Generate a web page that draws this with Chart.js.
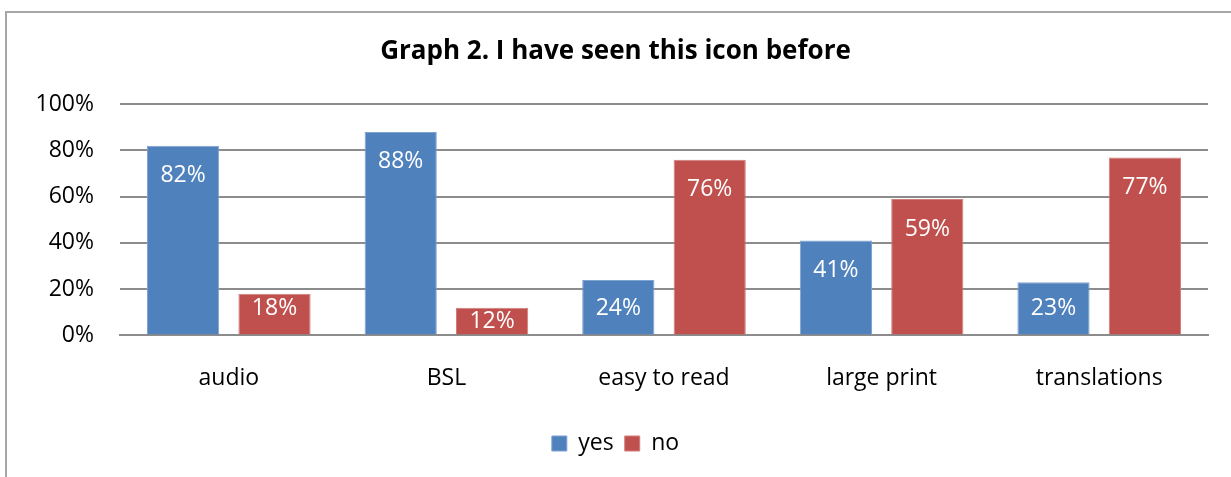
<!DOCTYPE html>
<html>
<head>
<meta charset="utf-8">
<script src="https://cdn.jsdelivr.net/npm/chart.js@4/dist/chart.umd.min.js"></script>
<style>
  html, body { margin: 0; padding: 0; background: #fff; }
  #wrap { position: relative; width: 1231px; height: 477px; overflow: hidden; }
  #frame { position: absolute; left: 5px; top: 11px; width: 1300px; height: 600px; border: 2px solid #a6a6a6; box-sizing: border-box; }
  #c { position: absolute; left: 0; top: 0; }
</style>
</head>
<body>
<div id="wrap">
  <div id="frame"></div>
  <canvas id="c" width="1231" height="477"></canvas>
</div>
<script>
const categories = ["audio", "BSL", "easy to read", "large print", "translations"];
const yesValues = [82, 88, 24, 41, 23];
const noValues = [18, 12, 76, 59, 77];
const yTicks = [0, 20, 40, 60, 80, 100];
const titleText = "Graph 2. I have seen this icon before";

const FONT = "'Open Sans', Lato, sans-serif";

const labelPlugin = {
  id: 'insideLabels',
  afterDatasetsDraw(chart) {
    const ctx = chart.ctx;
    ctx.save();
    ctx.fillStyle = '#ffffff';
    ctx.font = '23px ' + FONT;
    ctx.textAlign = 'center';
    ctx.textBaseline = 'middle';
    chart.data.datasets.forEach((ds, di) => {
      const meta = chart.getDatasetMeta(di);
      meta.data.forEach((bar, i) => {
        const top = bar.y, bottom = bar.base;
        let y = Math.min(top + 30, bottom - 26);
        if (y < top + 13) y = (top + bottom) / 2;
        ctx.fillText(ds.data[i] + '%', bar.x, y);
      });
    });
    ctx.restore();
  }
};

new Chart(document.getElementById('c'), {
  type: 'bar',
  data: {
    labels: categories,
    datasets: [
      { label: 'yes', data: yesValues, backgroundColor: '#4f81bd', borderColor: '#7fa3d0', borderWidth: 1, categoryPercentage: 0.84, barPercentage: 0.79 },
      { label: 'no', data: noValues, backgroundColor: '#c0504d', borderColor: '#d07e7c', borderWidth: 1, categoryPercentage: 0.84, barPercentage: 0.79 }
    ]
  },
  options: {
    responsive: false,
    animation: false,
    layout: { padding: { left: 23, right: 23, top: 0, bottom: 12 } },
    scales: {
      y: {
        min: 0, max: 100,
        afterFit(scale) { scale.width = 97; },
        afterBuildTicks(scale) { scale.ticks = yTicks.map(v => ({ value: v })); },
        ticks: { callback: v => v + '%', color: '#000', font: { family: FONT, size: 23 }, padding: 26 },
        grid: { color: '#8c8c8c', lineWidth: 2, drawTicks: false },
        border: { display: false }
      },
      x: {
        ticks: { color: '#000', font: { family: FONT, size: 23 }, padding: 29 },
        grid: { display: false, drawTicks: false },
        border: { color: '#8c8c8c', width: 2 }
      }
    },
    plugins: {
      title: { display: true, text: titleText, color: '#000', font: { family: FONT, size: 26, weight: 'bold' }, padding: { top: 36, bottom: 37 } },
      legend: {
        position: 'bottom',
        labels: { color: '#000', font: { family: FONT, size: 23 }, boxWidth: 15, boxHeight: 15, padding: 11 }
      },
      tooltip: { enabled: false }
    }
  },
  plugins: [labelPlugin]
});
</script>
</body>
</html>
